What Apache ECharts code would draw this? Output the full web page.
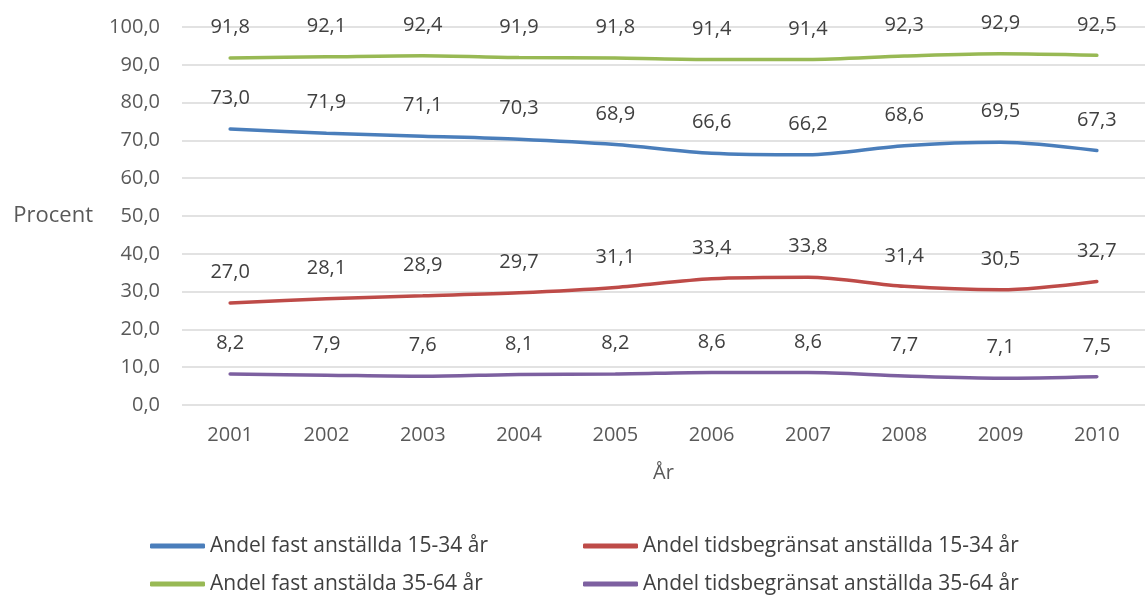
<!DOCTYPE html>
<html>
<head>
<meta charset="utf-8">
<script src="https://cdn.jsdelivr.net/npm/echarts@6/dist/echarts.min.js"></script>
<style>
  html, body { margin: 0; padding: 0; background: #fff; }
  #chart { width: 1145px; height: 597px; }
</style>
</head>
<body>
<div id="chart"></div>
<script>
const years = ['2001', '2002', '2003', '2004', '2005', '2006', '2007', '2008', '2009', '2010']
const fastYoung = [73.0, 71.9, 71.1, 70.3, 68.9, 66.6, 66.2, 68.6, 69.5, 67.3]
const tempYoung = [27.0, 28.1, 28.9, 29.7, 31.1, 33.4, 33.8, 31.4, 30.5, 32.7]
const fastOld = [91.8, 92.1, 92.4, 91.9, 91.8, 91.4, 91.4, 92.3, 92.9, 92.5]
const tempOld = [8.2, 7.9, 7.6, 8.1, 8.2, 8.6, 8.6, 7.7, 7.1, 7.5]

const FONT = '"Open Sans", sans-serif'
const fmt = v => Number(v).toFixed(1).replace('.', ',')

const makeSeries = (name, data, color) => ({
  name,
  type: 'line',
  data,
  smooth: 0.3,
  symbol: 'circle',
  symbolSize: 1,
  showSymbol: true,
  lineStyle: { color, width: 3.5, cap: 'round' },
  itemStyle: { color },
  label: {
    show: true,
    position: 'top',
    distance: 20,
    color: '#404040',
    fontFamily: FONT,
    fontSize: 20,
    formatter: p => fmt(p.value)
  },
  labelLayout: { hideOverlap: false }
})

const myChart = echarts.init(document.getElementById('chart'))

const option = {
  animation: false,
  backgroundColor: '#fff',
  grid: { left: 182, right: -10, top: 27, bottom: 192, containLabel: false },
  legend: {
    left: 145,
    top: 527,
    width: 880,
    itemGap: 10,
    itemWidth: 55,
    itemHeight: 5,
    icon: 'roundRect',
    textStyle: { color: '#404040', fontFamily: FONT, fontSize: 21, width: 363, lineHeight: 28 },
    data: ['Andel fast anställda 15-34 år', 'Andel tidsbegränsat anställda 15-34 år',
      'Andel fast anstälda 35-64 år', 'Andel tidsbegränsat anställda 35-64 år']
  },
  xAxis: {
    type: 'category',
    data: years,
    boundaryGap: true,
    name: 'År',
    nameLocation: 'middle',
    nameGap: 58,
    nameTextStyle: { color: '#595959', fontFamily: FONT, fontSize: 20 },
    axisLine: { show: false },
    axisTick: { show: false },
    axisLabel: { color: '#595959', fontFamily: FONT, fontSize: 20, margin: 20 }
  },
  yAxis: {
    type: 'value',
    min: 0,
    max: 100,
    interval: 10,
    name: 'Procent',
    nameLocation: 'middle',
    nameRotate: 0,
    nameGap: 89,
    nameTextStyle: { color: '#595959', fontFamily: FONT, fontSize: 22 },
    axisLine: { show: false },
    axisTick: { show: false },
    splitLine: { lineStyle: { color: '#d9d9d9', width: 1.5 } },
    axisLabel: { color: '#595959', fontFamily: FONT, fontSize: 20, margin: 22, formatter: v => fmt(v) }
  },
  series: [
    makeSeries('Andel fast anställda 15-34 år', fastYoung, '#4a7ebb'),
    makeSeries('Andel tidsbegränsat anställda 15-34 år', tempYoung, '#be4b48'),
    makeSeries('Andel fast anstälda 35-64 år', fastOld, '#98b954'),
    makeSeries('Andel tidsbegränsat anställda 35-64 år', tempOld, '#7d60a0')
  ]
}

myChart.setOption(option)
window.addEventListener('resize', () => myChart.resize())
</script>
</body>
</html>
